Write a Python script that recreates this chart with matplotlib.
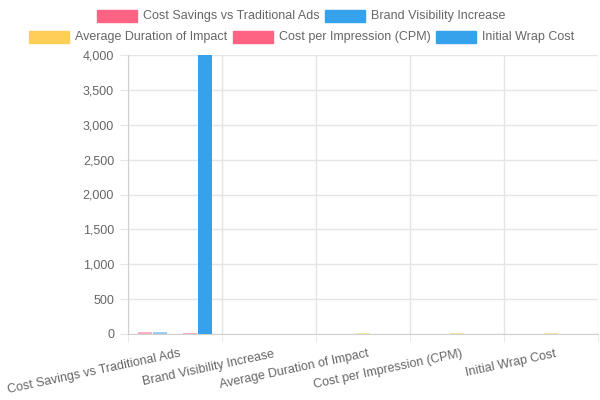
import matplotlib
matplotlib.use("Agg")
import matplotlib.pyplot as plt
from matplotlib.patches import Rectangle
import numpy as np

plt.rcParams['font.family'] = ['Liberation Sans', 'DejaVu Sans']

# data
categories = ["Cost Savings vs Traditional Ads", "Brand Visibility Increase",
              "Average Duration of Impact", "Cost per Impression (CPM)", "Initial Wrap Cost"]
series_names = ["Cost Savings vs Traditional Ads", "Brand Visibility Increase",
                "Average Duration of Impact", "Cost per Impression (CPM)", "Initial Wrap Cost"]
cost_savings = [30, 0, 0, 0, 0]
brand_visibility = [25, 0, 0, 0, 0]
avg_duration = [0, 0, 12, 10, 10]
cpm = [20, 0, 0, 0, 0]
wrap_cost = [4000, 0, 0, 0, 0]
colors = ["#FF6384", "#36A2EB", "#FFCE56", "#FF6384", "#36A2EB"]
alphas = [0.5, 0.5, 0.5, 0.5, 1.0]

W, H = 600, 400
fig = plt.figure(figsize=(6, 4), dpi=100)
ax = fig.add_axes([128 / W, 1 - 334 / H, (598 - 128) / W, (334 - 55) / H])

all_series = [cost_savings, brand_visibility, avg_duration, cpm, wrap_cost]
x = np.arange(len(categories))
slot = 0.8 / len(all_series)
for i, vals in enumerate(all_series):
    ax.bar(x - 0.4 + slot * (i + 0.5), vals, width=slot * 0.9,
           color=colors[i], alpha=alphas[i], zorder=3)

ax.set_xlim(-0.5, len(categories) - 0.5)
ax.set_ylim(0, 4000)
ax.set_yticks(np.arange(0, 4001, 500))
ax.set_yticklabels([f"{v:,}" for v in range(0, 4001, 500)])
ax.set_xticks(x)
ax.set_xticklabels([])
# category labels, rotated a little like the original
for xi, name in zip(x, categories):
    ax.annotate(name, (xi, 0), xycoords=('data', 'axes fraction'),
                xytext=(3, -10), textcoords='offset points',
                rotation=12, ha='right', va='top', rotation_mode='anchor',
                fontsize=9, color='#666666')
ax.set_xticks(np.arange(-0.5, len(categories)), minor=True)
ax.grid(True, which='minor', axis='x', color='#e5e5e5', lw=1)
ax.grid(True, which='major', axis='y', color='#e5e5e5', lw=1)
ax.tick_params(axis='x', which='major', length=0)
ax.tick_params(axis='x', which='minor', length=6, color='#e5e5e5')
ax.tick_params(axis='y', length=6, color='#e5e5e5', labelsize=9, labelcolor='#666666', pad=4)
for s in ['top', 'right']:
    ax.spines[s].set_visible(False)
for s in ['left', 'bottom']:
    ax.spines[s].set_color('#d0d0d0')
ax.set_axisbelow(True)

# legend drawn by hand, two rows like the original
legend_items = [(97, 16, 0), (325, 16, 1), (29, 37, 2), (233, 37, 3), (436, 37, 4)]
for px, py, i in legend_items:
    fig.patches.append(Rectangle((px / W, 1 - (py + 6) / H), 40 / W, 12 / H,
                                 transform=fig.transFigure, color=colors[i]))
    fig.text((px + 46) / W, 1 - py / H, series_names[i], fontsize=9,
             color='#666666', va='center', ha='left')

fig.savefig("out.png", dpi=100)
